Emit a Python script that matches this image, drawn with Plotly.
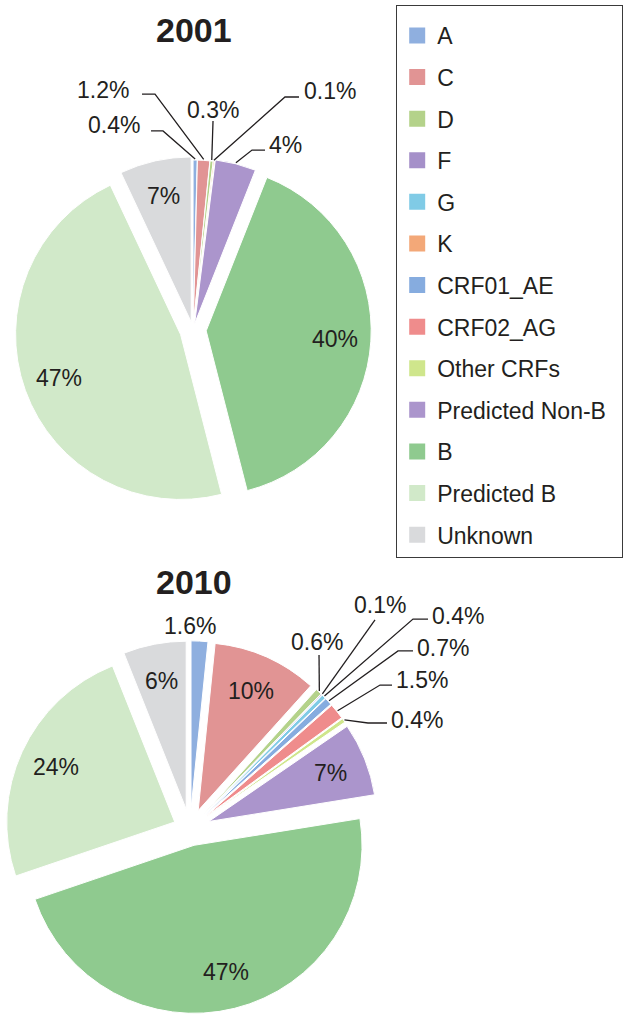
import math
import plotly.graph_objects as go

W, H = 634, 1020

# categories in legend order and their colours
categories = ["A", "C", "D", "F", "G", "K", "CRF01_AE", "CRF02_AG", "Other CRFs",
              "Predicted Non-B", "B", "Predicted B", "Unknown"]
colors = ["#8fafdf", "#e19494", "#b4d28a", "#a590c9", "#80cbe6", "#f3a878", "#86acdf",
          "#ef8c8c", "#cfe68c", "#ab95cc", "#8fca8f", "#d1e9c9", "#d9dadc"]
color_of = dict(zip(categories, colors))

# 2001
labels_2001 = ["A", "C", "D", "K", "Predicted Non-B", "B", "Predicted B", "Unknown"]
values_2001 = [0.4, 1.2, 0.3, 0.1, 4, 40, 47, 7]

# 2010
labels_2010 = ["A", "C", "D", "F", "G", "CRF01_AE", "CRF02_AG", "Other CRFs",
               "Predicted Non-B", "B", "Predicted B", "Unknown"]
values_2010 = [1.6, 10, 0.6, 0.1, 0.4, 0.7, 1.5, 0.4, 7, 47, 24, 6]

# pie placement in pixels; outside labels: (text x, text y, xanchor, line end, elbow)
pies = [
    dict(year="2001", labels=labels_2001, values=values_2001, cx=193, cy=330, r=165,
         pull=[0.03, 0.03, 0.03, 0.03, 0.04, 0.08, 0.08, 0.05], title_y=30,
         outside={"A": (142, 125, "right", (151, 131), (163, 131)),
                  "C": (131, 90, "right", (142, 94), (155, 94)),
                  "D": (213, 110, "center", (213, 121), None),
                  "K": (302, 91, "left", (299, 97), (285, 97)),
                  "Predicted Non-B": (267, 145, "left", (265, 150), (252, 150))}),
    dict(year="2010", labels=labels_2010, values=values_2010, cx=190, cy=829, r=168,
         pull=[0.12] * 9 + [0.1, 0.1, 0.12], title_y=582,
         outside={"A": (190, 626, "center", None, None),
                  "D": (317, 642, "center", (319, 655), None),
                  "F": (380, 605, "center", (375, 620), None),
                  "G": (430, 616, "left", (428, 619), (413, 619)),
                  "CRF01_AE": (415, 648, "left", (413, 651), (398, 651)),
                  "CRF02_AG": (394, 680, "left", (392, 685), (380, 685)),
                  "Other CRFs": (389, 720, "left", (387, 723), (368, 723))}),
]

FONT = "Liberation Sans, Arial, sans-serif"
TXT = "#231f20"


def px(x, y):
    return x / W, 1 - y / H


fig = go.Figure()
annotations = []
shapes = []

for p in pies:
    half = p["r"] * (1 + max(p["pull"]))
    dom_x = [(p["cx"] - half) / W, (p["cx"] + half) / W]
    dom_y = [1 - (p["cy"] + half) / H, 1 - (p["cy"] - half) / H]
    fig.add_trace(go.Pie(
        labels=p["labels"], values=p["values"], textinfo="none",
        marker=dict(colors=[color_of[l] for l in p["labels"]],
                    line=dict(color="white", width=1)),
        pull=p["pull"], sort=False, direction="clockwise", rotation=0,
        domain=dict(x=dom_x, y=dom_y), showlegend=False, hoverinfo="label+percent",
    ))
    tx, ty = px(194, p["title_y"])
    annotations.append(dict(text=f"<b>{p['year']}</b>", x=tx, y=ty, xref="paper",
                            yref="paper", xanchor="center", yanchor="middle",
                            showarrow=False, font=dict(size=34, color=TXT, family=FONT)))

    # percentage labels placed from each slice's angle
    total = sum(p["values"])
    cum = 0
    for lab, v, pl in zip(p["labels"], p["values"], p["pull"]):
        mid = (cum + v / 2) / total * 2 * math.pi
        cum += v
        text = f"{v:g}%"
        if lab not in p["outside"]:
            rr = p["r"] * (0.78 + pl)
            x, y = px(p["cx"] + rr * math.sin(mid), p["cy"] - rr * math.cos(mid))
            annotations.append(dict(text=text, x=x, y=y, xref="paper", yref="paper",
                                    xanchor="center", yanchor="middle", showarrow=False,
                                    font=dict(size=23, color=TXT, family=FONT)))
            continue
        lx, ly, anchor, end, elbow = p["outside"][lab]
        x, y = px(lx, ly)
        annotations.append(dict(text=text, x=x, y=y, xref="paper", yref="paper",
                                xanchor=anchor, yanchor="middle", showarrow=False,
                                font=dict(size=23, color=TXT, family=FONT)))
        if end is None:
            continue
        rr = p["r"] * (1 + pl) + 1
        tip = (p["cx"] + rr * math.sin(mid), p["cy"] - rr * math.cos(mid))
        pts = [end] + ([elbow] if elbow else []) + [tip]
        path = "M " + " L ".join("%.4f,%.4f" % px(*q) for q in pts)
        shapes.append(dict(type="path", path=path, xref="paper", yref="paper",
                           line=dict(color=TXT, width=1.3)))

# legend entries (one group each so the rows can be spaced out)
for cat, col in zip(categories, colors):
    fig.add_trace(go.Scatter(x=[None], y=[None], mode="markers", name=cat,
                             legendgroup=cat, hoverinfo="skip",
                             marker=dict(symbol="square", size=16, color=col)))

fig.update_xaxes(visible=False)
fig.update_yaxes(visible=False)
fig.update_layout(
    width=W, height=H, margin=dict(l=0, r=0, t=0, b=0),
    paper_bgcolor="white", plot_bgcolor="white",
    font=dict(family=FONT, color=TXT),
    annotations=annotations, shapes=shapes,
    legend=dict(x=396 / W, y=1 - 5 / H, xanchor="left", yanchor="top",
                bordercolor="#3a3a3a", borderwidth=1.2, tracegroupgap=8.7,
                font=dict(size=23, color=TXT, family=FONT),
                # blank title row: gives the top padding and the box width
                title=dict(text="\u00a0" * 132, font=dict(size=6)), itemclick=False),
    showlegend=True,
)

fig.write_html("out.html", config={"displayModeBar": False},
               post_script="document.body.style.margin='0px';")
